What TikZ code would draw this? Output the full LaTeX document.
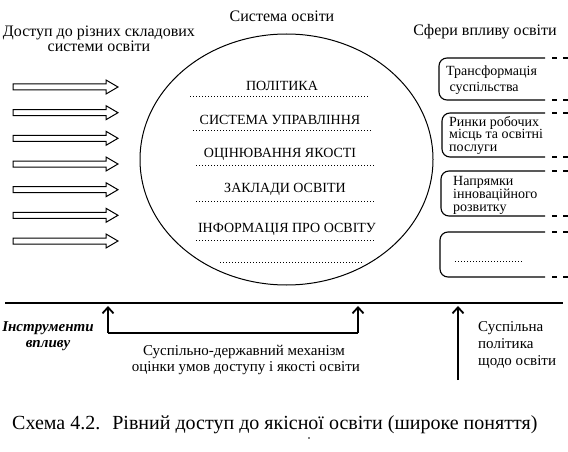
\documentclass[tikz,border=0pt]{standalone}
\usepackage{fontspec}
\setmainfont{Liberation Serif}
\usetikzlibrary{shapes.geometric,arrows.meta}
\begin{document}
\begin{tikzpicture}[x=1pt,y=-1pt,
  lbl/.style={font=\fontsize{16}{18}\selectfont, inner sep=0},
  caps/.style={font=\fontsize{14}{16}\selectfont, inner sep=0},
  boxtxt/.style={font=\fontsize{14}{16}\selectfont, inner sep=0, align=left, anchor=west},
  dotln/.style={dash pattern=on 1pt off 2pt, line width=0.8pt},
  blockarrow/.style={draw, line width=1pt, fill=white},
  sphere/.style={draw, line width=1.1pt, rounded corners=8pt},
  tail/.style={line width=1.1pt, dash pattern=on 5pt off 6pt},
  upar/.style={line width=1.8pt, -{Straight Barb[length=6pt,width=11pt]}},
]
\useasboundingbox (0,0) rectangle (568,452);

% titles
\node[lbl] (tsys) at (282,16) {Система освіти};
\node[lbl, align=center] (tacc) at (99,39) {Доступ до різних складових\\[-3pt]системи освіти};
\node[lbl] (tinf) at (485,32) {Сфери впливу освіти};

% ellipse
\node[ellipse, draw, line width=1pt, minimum width=293pt, minimum height=251pt, inner sep=0] (sys) at (286.5,159.5) {};

% block arrows
\foreach \yy in {87,112.7,138.3,164,189.7,215.3,241} {
  \draw[blockarrow] (13,\yy-3) -- (106,\yy-3) -- (106,\yy-7) -- (118,\yy) -- (106,\yy+7) -- (106,\yy+3) -- (13,\yy+3) -- cycle;
}

% contents of the system
\node[caps] (c1) at (282,86) {ПОЛІТИКА};
\draw[dotln] (190,96) -- (368,96);
\node[caps] (c2) at (280,120) {СИСТЕМА УПРАВЛІННЯ};
\draw[dotln] (193,130) -- (372,130);
\node[caps] (c3) at (280,154) {ОЦІНЮВАННЯ ЯКОСТІ};
\draw[dotln] (196,165) -- (374,165);
\node[caps] (c4) at (285,189) {ЗАКЛАДИ ОСВІТИ};
\draw[dotln] (196,201) -- (374,201);
\node[caps] (c5) at (287,229) {ІНФОРМАЦІЯ ПРО ОСВІТУ};
\draw[dotln] (196,240) -- (374,240);
\draw[dotln] (220,262) -- (362,262);

% spheres of influence
\draw[sphere] (545,58) -- (439,58) -- (439,100) -- (545,100);
\draw[tail] (552,58) -- (568,58);
\draw[tail] (552,100) -- (568,100);
\node[boxtxt] (s1) at (446,80) {Трансформація\\\ суспільства};

\draw[sphere] (545,113) -- (442,113) -- (442,157) -- (545,157);
\draw[tail] (552,113) -- (568,113);
\draw[tail] (552,157) -- (568,157);
\node[boxtxt, font=\fontsize{14}{12.5}\selectfont] (s2) at (449,135) {Ринки робочих\\місць та освітні\\послуги};

\draw[sphere] (545,171) -- (441,171) -- (441,216) -- (545,216);
\draw[tail] (552,171) -- (568,171);
\draw[tail] (552,216) -- (568,216);
\node[boxtxt, font=\fontsize{14}{13}\selectfont] (s3) at (453,195) {Напрямки\\інноваційного\\розвитку};

\draw[sphere] (545,232) -- (440,232) -- (440,277) -- (545,277);
\draw[tail] (552,232) -- (568,232);
\draw[tail] (552,277) -- (568,277);
\draw[dotln] (455,261) -- (522,261);

% instruments line
\coordinate (lineL) at (5,303);
\coordinate (lineR) at (563,303);
\draw[line width=2pt] (lineL) -- (lineR);

\node[lbl, font=\fontsize{15}{16}\selectfont\bfseries\itshape, align=center] (instr) at (48,336) {Інструменти\\впливу};

\coordinate (bL) at (108,333);
\coordinate (bR) at (358,333);
\coordinate (tL) at (108,306);
\coordinate (tR) at (358,306);
\draw[line width=1.8pt] (bL) -- (bR);
\draw[upar] (bL) -- (tL);
\draw[upar] (bR) -- (tR);
\node[lbl, align=center, font=\fontsize{15}{16}\selectfont] (mech) at (244,360) {Суспільно-державний механізм\\\ оцінки умов доступу і якості освіти};

\coordinate (pB) at (458,380);
\coordinate (pT) at (458,306);
\draw[upar] (pB) -- (pT);
\node[lbl, align=left, anchor=west, font=\fontsize{15}{17}\selectfont] (pol) at (478,345) {Суспільна\\політика\\щодо освіти};

% caption
\node[lbl, anchor=west, font=\fontsize{20}{22}\selectfont] (cap) at (12,425) {Схема 4.2.\hspace{12pt}Рівний доступ до якісної освіти (широке поняття)};
\node[circle, fill, inner sep=0.6pt] (dot) at (309,438) {};
\end{tikzpicture}
\end{document}
